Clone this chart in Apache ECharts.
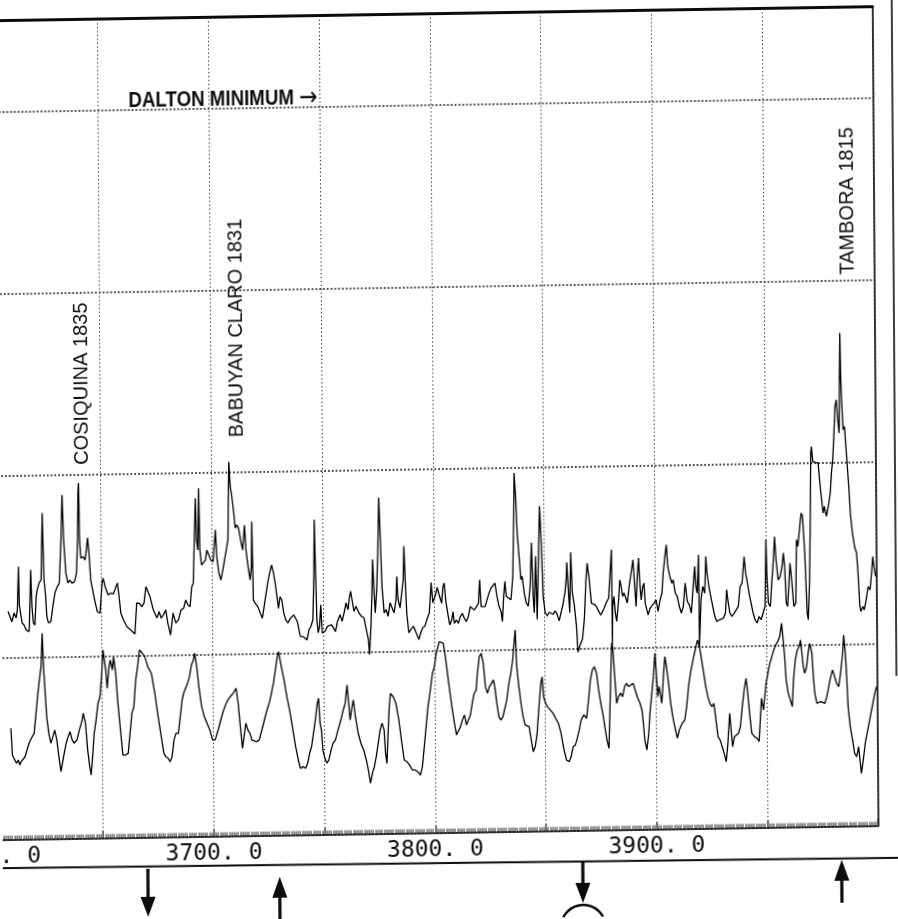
<!DOCTYPE html>
<html>
<head>
<meta charset="utf-8">
<script src="https://cdn.jsdelivr.net/npm/echarts@6/dist/echarts.min.js"></script>
<style>
html, body { margin: 0; padding: 0; background: #fff; overflow: hidden; }
#chart {
  width: 898px; height: 919px;
  transform-origin: 449px 460px;
  transform: matrix(1, -0.016, 0.007, 1, 0, 0);
}
</style>
</head>
<body>
<div id="chart"></div>
<script>
// Upper record (spiky volcanic signal), depth and value
const upperDepth = [3607.8,3609.5,3610.5,3611.4,3612.0,3612.6,3612.9,3613.5,3614.1,3615.0,3615.9,3617.2,3617.4,3618.1,3618.6,3619.2,3619.9,3620.5,3621.0,3621.9,3622.8,3623.5,3624.1,3624.7,3625.3,3626.0,3627.1,3628.0,3629.0,3630.1,3631.0,3631.9,3632.5,3633.1,3634.0,3634.9,3635.8,3636.7,3637.9,3638.8,3639.4,3639.7,3640.0,3640.3,3640.8,3641.8,3642.7,3643.3,3643.9,3644.5,3645.2,3646.3,3647.2,3648.1,3649.3,3650.3,3650.8,3651.7,3653.0,3654.2,3655.4,3656.3,3657.2,3657.8,3658.7,3659.9,3661.4,3663.2,3665.0,3665.9,3667.1,3668.2,3669.2,3670.1,3670.9,3671.9,3673.4,3675.0,3676.0,3676.9,3677.9,3679.0,3679.9,3681.1,3682.3,3683.5,3684.7,3685.9,3687.1,3688.0,3689.0,3690.0,3690.8,3691.5,3692.2,3692.7,3693.1,3693.7,3694.2,3694.6,3695.3,3696.2,3697.1,3697.7,3698.6,3699.5,3700.5,3701.3,3701.6,3702.2,3703.1,3704.0,3704.9,3706.1,3707.3,3707.9,3708.5,3709.1,3710.0,3710.6,3711.3,3712.1,3713.0,3713.9,3714.8,3715.4,3716.3,3717.2,3717.8,3718.1,3718.6,3719.3,3720.6,3721.7,3722.6,3723.9,3725.1,3726.0,3726.9,3727.8,3728.7,3729.9,3730.6,3731.4,3732.3,3733.2,3734.1,3735.3,3736.8,3738.4,3739.7,3741.1,3742.7,3743.6,3744.5,3745.4,3746.0,3746.3,3746.7,3747.2,3747.8,3748.4,3749.0,3749.6,3750.8,3752.0,3753.8,3755.6,3756.5,3757.7,3758.6,3759.5,3760.4,3761.3,3761.9,3762.5,3763.1,3764.0,3764.9,3766.2,3767.3,3768.5,3769.5,3770.4,3770.9,3771.6,3772.2,3772.5,3773.1,3773.6,3774.3,3774.9,3775.5,3776.1,3776.7,3777.6,3778.5,3779.4,3780.3,3781.2,3782.1,3783.0,3783.4,3783.9,3784.8,3785.7,3786.3,3786.7,3787.2,3787.8,3788.7,3789.6,3790.8,3792.0,3793.2,3794.1,3795.0,3796.0,3796.9,3798.0,3798.9,3799.6,3800.7,3801.6,3802.7,3803.6,3804.2,3804.8,3805.4,3806.3,3807.2,3808.1,3808.7,3809.3,3810.2,3811.1,3812.0,3812.9,3813.8,3814.7,3815.6,3816.5,3817.4,3818.3,3819.3,3820.2,3820.8,3821.4,3822.3,3823.2,3824.1,3825.0,3825.9,3826.8,3827.7,3828.6,3829.5,3830.4,3831.0,3831.6,3832.2,3832.8,3833.7,3834.9,3835.8,3836.4,3836.7,3837.3,3837.9,3838.8,3839.4,3840.0,3840.9,3841.8,3842.7,3843.6,3844.3,3844.9,3845.4,3846.1,3846.7,3847.2,3847.9,3848.1,3848.8,3849.4,3850.3,3851.2,3852.1,3853.0,3853.9,3854.8,3855.7,3856.6,3857.5,3858.4,3859.3,3859.9,3860.2,3860.8,3861.4,3862.0,3862.6,3863.5,3864.4,3865.0,3865.9,3867.1,3868.0,3868.8,3869.4,3870.3,3871.2,3872.1,3873.0,3874.2,3875.4,3876.6,3877.8,3879.0,3879.9,3880.4,3880.6,3880.8,3881.4,3882.0,3882.6,3883.5,3884.1,3884.7,3885.3,3885.9,3886.5,3887.4,3888.3,3889.2,3890.1,3890.8,3891.4,3891.9,3892.6,3893.2,3893.7,3894.4,3895.0,3895.5,3896.2,3896.8,3897.7,3898.6,3899.5,3900.4,3901.3,3902.2,3903.1,3903.7,3904.6,3905.2,3905.8,3906.7,3907.6,3908.2,3909.1,3910.0,3910.9,3911.8,3912.7,3913.6,3914.5,3915.4,3916.3,3917.2,3917.9,3918.4,3919.0,3919.7,3919.9,3920.7,3921.5,3922.4,3923.0,3923.5,3924.3,3925.1,3926.0,3926.9,3927.8,3929.0,3929.9,3930.8,3931.7,3932.3,3932.8,3933.7,3934.6,3935.7,3936.6,3937.5,3938.4,3939.3,3940.3,3940.9,3941.5,3942.4,3943.3,3944.2,3945.1,3946.0,3946.9,3947.8,3948.7,3949.6,3950.2,3950.5,3951.1,3952.0,3952.6,3953.5,3954.1,3954.7,3955.6,3956.5,3957.4,3958.0,3958.6,3959.2,3959.8,3960.4,3961.0,3961.7,3962.6,3963.5,3964.0,3964.6,3965.5,3966.2,3966.8,3967.7,3968.6,3969.1,3969.8,3970.4,3970.7,3971.0,3971.6,3972.9,3974.0,3974.9,3975.5,3976.1,3976.7,3977.6,3978.5,3979.4,3980.0,3980.6,3981.2,3981.8,3982.4,3983.0,3983.6,3983.9,3984.2,3984.5,3984.8,3985.4,3986.0,3986.6,3987.2,3987.8,3988.4,3989.3,3990.2,3991.1,3991.7,3992.4,3992.9,3993.7,3994.4,3995.3,3996.2,3997.1,3997.8,3998.4,3998.9,3999.6];
const upperValue = [0.253,0.197,0.245,0.217,0.261,0.499,0.288,0.279,0.190,0.178,0.151,0.141,0.177,0.480,0.278,0.188,0.177,0.332,0.369,0.408,0.424,0.792,0.424,0.351,0.222,0.188,0.194,0.276,0.352,0.386,0.404,0.642,0.889,0.642,0.460,0.405,0.421,0.404,0.412,0.459,0.641,0.898,0.953,0.640,0.541,0.548,0.530,0.585,0.651,0.568,0.420,0.348,0.293,0.245,0.237,0.402,0.429,0.381,0.336,0.345,0.341,0.335,0.401,0.344,0.236,0.197,0.160,0.141,0.119,0.289,0.287,0.268,0.288,0.378,0.387,0.323,0.249,0.205,0.240,0.204,0.221,0.248,0.176,0.110,0.231,0.176,0.192,0.247,0.256,0.301,0.274,0.264,0.374,0.392,0.669,0.859,0.630,0.575,0.914,0.575,0.492,0.492,0.519,0.574,0.547,0.519,0.509,0.629,0.684,0.536,0.447,0.408,0.463,0.545,0.627,1.057,0.920,0.874,0.775,0.692,0.709,0.692,0.626,0.571,0.708,0.571,0.479,0.406,0.479,0.726,0.295,0.279,0.258,0.221,0.194,0.295,0.387,0.442,0.486,0.440,0.366,0.247,0.311,0.293,0.220,0.182,0.166,0.192,0.209,0.172,0.090,0.089,0.071,0.126,0.145,0.181,0.440,0.731,0.474,0.181,0.110,0.144,0.263,0.108,0.116,0.144,0.152,0.115,0.170,0.207,0.170,0.216,0.271,0.234,0.298,0.335,0.289,0.224,0.252,0.215,0.196,0.187,0.123,0.068,-0.015,0.141,0.342,0.507,0.324,0.214,0.342,0.543,0.846,0.616,0.360,0.213,0.231,0.194,0.268,0.240,0.212,0.285,0.413,0.285,0.239,0.230,0.394,0.577,0.394,0.211,0.101,0.119,0.137,0.101,0.064,0.101,0.128,0.137,0.174,0.210,0.375,0.265,0.302,0.348,0.297,0.261,0.352,0.371,0.279,0.206,0.141,0.168,0.213,0.149,0.168,0.149,0.185,0.204,0.176,0.158,0.185,0.240,0.249,0.221,0.239,0.258,0.386,0.239,0.230,0.239,0.248,0.313,0.340,0.348,0.367,0.293,0.238,0.210,0.155,0.293,0.375,0.293,0.292,0.274,0.402,0.731,0.970,0.841,0.640,0.493,0.384,0.402,0.310,0.255,0.237,0.347,0.585,0.292,0.201,0.512,0.164,0.384,0.713,0.786,0.566,0.292,0.201,0.182,0.201,0.209,0.191,0.209,0.191,0.154,0.163,0.245,0.309,0.382,0.474,0.327,0.199,0.529,0.309,0.236,0.126,-0.020,0.016,0.053,0.163,0.376,0.468,0.376,0.248,0.256,0.238,0.210,0.182,0.210,0.247,0.274,0.265,0.540,0.020,0.228,0.283,0.191,0.145,0.264,0.374,0.337,0.282,0.301,0.282,0.246,0.336,0.410,0.483,0.336,0.226,0.373,0.492,0.336,0.262,0.335,0.354,0.244,0.207,0.179,0.216,0.225,0.243,0.261,0.197,0.260,0.297,0.407,0.507,0.562,0.443,0.388,0.351,0.369,0.296,0.277,0.223,0.186,0.222,0.351,0.249,0.231,0.185,0.331,0.441,0.331,0.294,0.504,0.001,0.257,0.330,0.293,0.495,0.403,0.330,0.275,0.275,0.164,0.137,0.146,0.136,0.155,0.182,0.310,0.255,0.182,0.163,0.181,0.199,0.217,0.327,0.345,0.491,0.400,0.363,0.290,0.235,0.180,0.142,0.124,0.160,0.142,0.179,0.215,0.581,0.398,0.233,0.214,0.324,0.470,0.598,0.470,0.360,0.378,0.433,0.507,0.432,0.231,0.213,0.323,0.451,0.359,0.212,0.231,0.579,0.542,0.651,0.725,0.706,0.505,0.175,0.138,0.358,0.760,1.053,1.090,1.007,1.001,0.998,0.869,0.796,0.723,0.759,0.704,0.759,0.832,0.942,1.015,1.143,1.308,1.345,1.234,1.161,1.454,1.710,1.454,1.343,1.179,1.197,1.087,0.976,0.866,0.720,0.610,0.536,0.500,0.390,0.207,0.179,0.206,0.188,0.243,0.315,0.297,0.389,0.480,0.425,0.370];

// Lower record (smoother isotope-like curve), depth and value
const lowerDepth = [3608.7,3609.3,3610.2,3611.1,3612.0,3612.6,3613.2,3614.1,3615.0,3615.9,3617.1,3618.3,3619.2,3620.1,3621.0,3621.9,3622.5,3623.1,3623.7,3624.3,3624.9,3625.8,3626.7,3627.6,3628.5,3629.4,3630.3,3631.2,3632.4,3633.6,3634.5,3635.4,3636.3,3637.2,3638.5,3639.6,3640.9,3641.4,3642.4,3643.3,3644.2,3644.8,3645.4,3646.3,3647.2,3648.1,3649.0,3649.9,3650.5,3651.1,3651.7,3652.3,3653.2,3653.8,3654.7,3655.3,3656.2,3657.1,3658.3,3659.2,3660.4,3661.6,3662.5,3663.4,3664.3,3665.2,3666.1,3667.0,3668.3,3669.4,3670.7,3672.3,3673.8,3675.0,3675.9,3676.8,3677.7,3678.6,3679.6,3680.5,3681.4,3682.3,3683.2,3684.3,3685.2,3686.1,3686.8,3687.7,3688.6,3689.5,3690.4,3691.3,3691.9,3692.8,3693.7,3694.9,3696.1,3697.3,3698.5,3699.7,3700.9,3701.8,3702.7,3703.9,3704.8,3706.0,3707.2,3708.5,3709.6,3710.5,3711.4,3712.3,3713.2,3714.1,3714.8,3715.7,3716.6,3717.5,3718.4,3719.6,3720.8,3722.0,3723.2,3724.4,3725.6,3726.5,3727.4,3728.3,3729.2,3729.8,3731.0,3732.2,3733.4,3734.6,3735.8,3737.2,3738.4,3739.3,3740.5,3741.7,3742.6,3743.5,3744.4,3745.3,3746.2,3747.1,3747.7,3748.3,3748.9,3749.5,3750.4,3751.3,3752.2,3753.2,3754.1,3755.2,3756.4,3757.7,3758.8,3759.7,3760.6,3761.3,3761.9,3762.8,3763.4,3764.3,3765.5,3766.7,3767.9,3769.1,3770.0,3770.9,3771.8,3772.7,3773.6,3774.5,3775.4,3776.3,3777.2,3777.8,3778.4,3779.0,3779.6,3780.2,3781.4,3782.6,3783.9,3785.0,3786.2,3787.5,3788.6,3789.9,3791.1,3792.3,3793.5,3794.4,3795.3,3796.2,3797.1,3798.0,3799.2,3800.1,3801.0,3802.4,3803.3,3804.2,3805.1,3806.0,3807.1,3808.1,3809.0,3809.9,3810.8,3811.7,3812.6,3813.5,3814.4,3815.3,3816.2,3817.1,3818.0,3818.9,3819.5,3820.4,3821.3,3822.2,3823.1,3824.0,3824.9,3825.8,3826.7,3827.3,3828.2,3829.1,3830.0,3830.9,3831.8,3832.7,3833.7,3834.6,3835.5,3836.0,3836.7,3837.3,3838.2,3839.1,3840.0,3840.9,3841.8,3842.7,3843.6,3844.5,3845.4,3846.3,3847.2,3848.1,3848.7,3849.3,3850.2,3851.1,3852.3,3853.5,3854.7,3855.9,3857.1,3858.4,3859.5,3860.7,3861.6,3862.5,3863.5,3864.4,3865.3,3866.2,3867.4,3868.7,3869.6,3870.5,3871.4,3872.3,3873.3,3874.2,3875.1,3876.0,3876.9,3877.8,3878.7,3879.6,3880.2,3880.7,3881.4,3882.3,3883.2,3884.1,3885.0,3885.9,3886.8,3887.7,3888.6,3889.8,3890.7,3891.6,3892.8,3893.7,3894.3,3894.9,3895.8,3896.7,3897.3,3898.2,3899.1,3899.7,3900.3,3900.9,3901.5,3902.7,3903.6,3904.2,3904.9,3905.8,3906.7,3907.6,3908.5,3909.6,3910.5,3911.8,3913.0,3913.9,3914.8,3915.7,3916.9,3918.1,3919.0,3919.9,3920.8,3921.7,3922.6,3923.5,3924.4,3925.3,3926.2,3927.1,3928.0,3928.9,3929.8,3930.7,3931.6,3932.4,3933.3,3933.9,3934.5,3935.4,3936.3,3937.2,3938.1,3939.0,3939.9,3940.8,3941.4,3942.3,3943.2,3944.4,3945.6,3946.5,3947.1,3947.7,3948.6,3949.2,3949.8,3950.7,3951.6,3952.5,3953.4,3954.3,3955.2,3956.1,3957.0,3957.7,3958.3,3958.9,3959.8,3960.7,3961.6,3962.2,3963.1,3964.0,3964.9,3965.5,3966.1,3966.7,3967.3,3968.2,3969.1,3969.7,3970.6,3971.2,3971.8,3972.7,3973.6,3974.5,3975.4,3976.3,3977.2,3978.1,3979.0,3979.9,3980.8,3981.7,3982.6,3983.5,3984.5,3985.0,3985.7,3986.3,3986.8,3987.7,3988.7,3989.6,3990.5,3991.4,3992.0,3992.6,3993.5,3994.4,3995.3,3996.2,3997.1,3998.0,3998.9,3999.7];
const lowerValue = [-0.388,-0.535,-0.545,-0.581,-0.563,-0.591,-0.573,-0.581,-0.546,-0.509,-0.464,-0.436,-0.418,-0.308,-0.198,-0.107,-0.053,0.131,-0.071,-0.199,-0.327,-0.419,-0.474,-0.438,-0.402,-0.457,-0.548,-0.631,-0.549,-0.476,-0.440,-0.412,-0.458,-0.476,-0.458,-0.404,-0.349,-0.312,-0.368,-0.514,-0.606,-0.652,-0.570,-0.423,-0.350,-0.259,-0.223,-0.094,0.034,0.043,-0.076,-0.177,-0.058,-0.022,-0.077,-0.004,-0.096,-0.260,-0.425,-0.545,-0.545,-0.536,-0.426,-0.316,-0.280,-0.134,-0.061,0.031,0.012,-0.007,-0.062,-0.098,-0.209,-0.319,-0.393,-0.466,-0.539,-0.558,-0.567,-0.586,-0.558,-0.467,-0.430,-0.431,-0.340,-0.248,-0.211,-0.184,-0.157,-0.120,-0.057,-0.029,0.008,-0.066,-0.176,-0.286,-0.342,-0.378,-0.415,-0.470,-0.470,-0.434,-0.398,-0.343,-0.307,-0.270,-0.243,-0.225,-0.207,-0.188,-0.271,-0.399,-0.519,-0.510,-0.381,-0.419,-0.437,-0.474,-0.483,-0.484,-0.474,-0.420,-0.365,-0.310,-0.265,-0.256,-0.164,-0.091,-0.018,0.009,-0.074,-0.147,-0.239,-0.312,-0.404,-0.514,-0.588,-0.634,-0.625,-0.634,-0.607,-0.552,-0.516,-0.442,-0.369,-0.278,-0.251,-0.388,-0.425,-0.535,-0.581,-0.608,-0.590,-0.536,-0.499,-0.481,-0.426,-0.372,-0.317,-0.280,-0.180,-0.281,-0.373,-0.299,-0.263,-0.355,-0.446,-0.502,-0.538,-0.594,-0.649,-0.722,-0.668,-0.631,-0.576,-0.503,-0.430,-0.393,-0.430,-0.559,-0.614,-0.449,-0.303,-0.230,-0.248,-0.285,-0.377,-0.487,-0.597,-0.607,-0.625,-0.653,-0.653,-0.663,-0.681,-0.635,-0.525,-0.416,-0.306,-0.233,-0.123,-0.087,-0.014,0.050,0.059,0.041,-0.033,-0.125,-0.235,-0.326,-0.400,-0.464,-0.455,-0.419,-0.382,-0.355,-0.410,-0.383,-0.356,-0.292,-0.237,-0.219,-0.127,-0.036,-0.018,-0.073,-0.202,-0.238,-0.202,-0.184,-0.165,-0.202,-0.294,-0.368,-0.386,-0.368,-0.359,-0.276,-0.185,-0.130,-0.057,0.016,0.107,-0.095,-0.204,-0.296,-0.370,-0.415,-0.415,-0.425,-0.498,-0.563,-0.535,-0.462,-0.316,-0.188,-0.152,-0.262,-0.298,-0.317,-0.335,-0.353,-0.381,-0.409,-0.464,-0.556,-0.612,-0.621,-0.593,-0.538,-0.530,-0.493,-0.448,-0.393,-0.365,-0.384,-0.284,-0.174,-0.119,-0.101,-0.137,-0.229,-0.303,-0.358,-0.432,-0.505,-0.551,-0.542,0.027,0.007,-0.139,-0.304,-0.268,-0.249,-0.269,-0.214,-0.195,-0.214,-0.205,-0.196,-0.233,-0.270,-0.306,-0.343,-0.416,-0.508,-0.563,-0.472,-0.362,-0.252,-0.142,-0.032,-0.143,-0.271,-0.216,-0.308,-0.143,-0.052,-0.107,-0.199,-0.309,-0.383,-0.438,-0.502,-0.457,-0.420,-0.402,-0.329,-0.219,-0.146,-0.073,-0.009,0.036,-0.001,-0.074,-0.147,-0.221,-0.276,-0.313,-0.331,-0.313,-0.405,-0.497,-0.515,-0.552,-0.588,-0.635,-0.534,-0.369,-0.461,-0.553,-0.498,-0.488,-0.480,-0.443,-0.334,-0.242,-0.178,-0.243,-0.371,-0.481,-0.499,-0.509,-0.527,-0.409,-0.290,-0.354,-0.281,-0.208,-0.153,-0.098,-0.062,-0.025,0.002,0.020,0.047,0.121,0.029,-0.063,-0.191,-0.264,-0.301,-0.338,-0.192,-0.082,-0.027,-0.009,0.027,-0.046,-0.120,-0.156,-0.120,-0.028,0.008,-0.047,-0.175,-0.266,-0.322,-0.331,-0.313,-0.304,-0.323,-0.286,-0.232,-0.177,-0.140,-0.177,-0.214,-0.232,-0.159,-0.049,0.051,-0.049,-0.196,-0.343,-0.453,-0.526,-0.600,-0.619,-0.564,-0.637,-0.710,-0.637,-0.546,-0.491,-0.436,-0.381,-0.326,-0.271,-0.235];

// Axis tick labels shown along the depth scale
const labeledDepths = [3600, 3700, 3800, 3900];

// Eruption annotations
const eruptionNames = ['COSIQUINA 1835', 'BABUYAN CLARO 1831', 'TAMBORA 1815'];
const periodName = 'DALTON MINIMUM';
const periodArrow = '\u2192';

// Marker arrows beneath the depth scale
const markerDepths = [3670.1, 3729.6, 3866.5, 3983.4];
const markerDirections = ['down', 'up', 'down', 'up'];

const zip = (xs, ys) => xs.map((x, i) => [x, ys[i]]);

const chart = echarts.init(document.getElementById('chart'), null, { renderer: 'canvas' });

const ink = '#0c0c0c';

chart.setOption({
  animation: false,
  backgroundColor: '#ffffff',
  grid: { left: -10.2, right: 22.3, top: 13.6, bottom: 86.4, containLabel: false, outerBoundsMode: 'none' },
  xAxis: [{
    type: 'value', min: 3600, max: 4000, interval: 50, position: 'bottom',
    axisLine: { show: true, onZero: false, lineStyle: { color: ink, width: 1.6 } },
    axisTick: { show: true, inside: true, length: 7, lineStyle: { color: ink, width: 1.2 } },
    minorTick: { show: true, splitNumber: 50, length: 4, lineStyle: { color: '#1a1a1a', width: 0.9 } },
    axisLabel: {
      formatter: v => labeledDepths.includes(v) ? v + '. 0' : '',
      fontFamily: 'DejaVu Sans Mono', fontSize: 23, color: ink, margin: 6,
      showMinLabel: true, showMaxLabel: true, hideOverlap: false
    },
    splitLine: { show: true, lineStyle: { color: '#222', type: [1.3, 2.6], width: 1 } }
  }, {
    type: 'value', min: 3600, max: 4000, position: 'top',
    axisLine: { show: true, onZero: false, lineStyle: { color: ink, width: 3 } },
    axisTick: { show: false }, axisLabel: { show: false }, splitLine: { show: false }
  }],
  yAxis: [{
    type: 'value', min: -1, max: 3.5, interval: 1,
    axisLine: { show: false, onZero: false }, axisTick: { show: false }, axisLabel: { show: false },
    splitLine: { show: true, lineStyle: { color: ink, type: [1.8, 2], width: 1.6 } }
  }, {
    type: 'value', min: -1, max: 3.5, interval: 1, position: 'right',
    axisLine: { show: true, onZero: false, lineStyle: { color: ink, width: 1.6 } },
    axisTick: { show: false }, axisLabel: { show: false }, splitLine: { show: false }
  }],
  series: [{
    name: 'upper', type: 'line', data: zip(upperDepth, upperValue),
    showSymbol: false, symbol: 'none', smooth: false,
    lineStyle: { color: '#000', width: 1.3 }, z: 5
  }, {
    name: 'lower', type: 'line', data: zip(lowerDepth, lowerValue),
    showSymbol: false, symbol: 'none', smooth: false,
    lineStyle: { color: '#000', width: 1.3 }, z: 5
  }]
});

// Annotation layer: eruption names, period label, baseline rule and arrows
const px = d => chart.convertToPixel({ xAxisIndex: 0 }, d);
const annoFont = '20px "Liberation Sans", Arial, sans-serif';
const vtext = (name, x, y) => ({
  type: 'text', x: x, y: y, rotation: Math.PI / 2,
  style: { text: name, font: annoFont, fill: ink, align: 'left', verticalAlign: 'middle', textAlign: 'left', textVerticalAlign: 'middle' }
});

const graphics = [
  vtext(eruptionNames[0], 82.5, 459),
  vtext(eruptionNames[1], 237, 434),
  vtext(eruptionNames[2], 849, 281),
  {
    type: 'text', x: 131, y: 109, scaleX: 0.85,
    style: {
      text: periodName + ' {a|' + periodArrow + '}',
      font: 'bold 22px "Liberation Sans", Arial, sans-serif',
      fill: ink, align: 'left', verticalAlign: 'bottom', textAlign: 'left', textVerticalAlign: 'bottom',
      rich: { a: { font: '26px "DejaVu Sans", sans-serif', fill: ink } }
    }
  },
  { type: 'line', shape: { x1: 0, y1: 861, x2: 898, y2: 865 }, style: { stroke: ink, lineWidth: 2 } },
  { type: 'line', shape: { x1: 895, y1: 0, x2: 895, y2: 683 }, style: { stroke: ink, lineWidth: 1.6 } }
];

markerDepths.forEach((d, i) => {
  const x = px(d);
  if (markerDirections[i] === 'down') {
    const top = 864, tip = i === 0 ? 912 : 905, base = tip - 20;
    graphics.push({ type: 'line', shape: { x1: x, y1: top, x2: x, y2: base + 2 }, style: { stroke: ink, lineWidth: 3.2 } });
    graphics.push({ type: 'polygon', shape: { points: [[x - 7.5, base], [x + 7.5, base], [x, tip]] }, style: { fill: ink } });
    if (i === 2) {
      graphics.push({ type: 'circle', shape: { cx: x, cy: 929, r: 22 }, style: { fill: 'none', stroke: ink, lineWidth: 2.5 } });
    }
  } else {
    const tip = i === 1 ? 874 : 866, base = tip + 21, end = i === 1 ? 925 : 909;
    graphics.push({ type: 'line', shape: { x1: x, y1: base - 2, x2: x, y2: end }, style: { stroke: ink, lineWidth: 3.2 } });
    graphics.push({ type: 'polygon', shape: { points: [[x - 7.5, base], [x + 7.5, base], [x, tip]] }, style: { fill: ink } });
  }
});

chart.setOption({ graphic: { elements: graphics } });
</script>
</body>
</html>
